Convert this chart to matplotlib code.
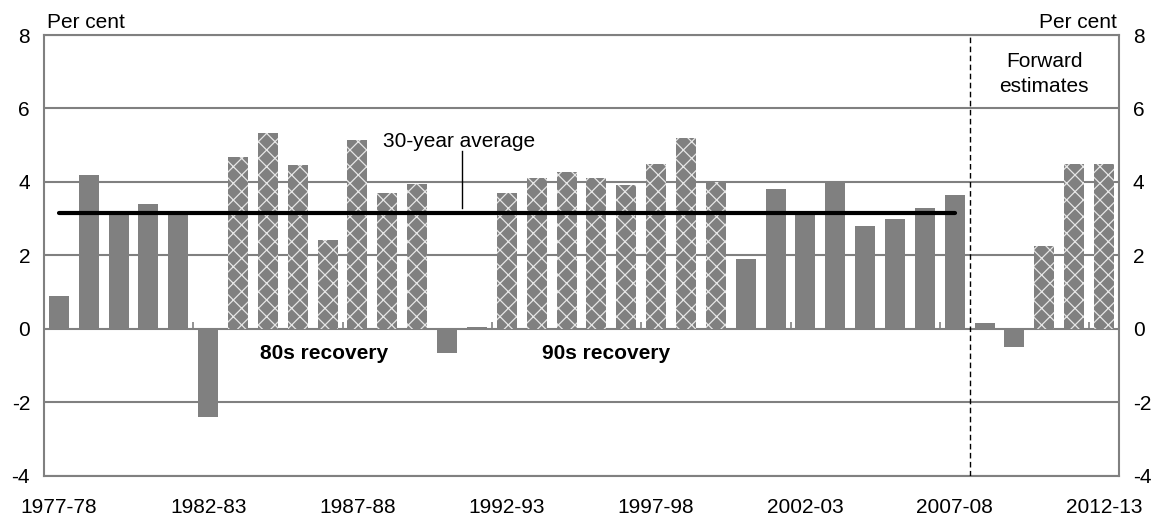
import matplotlib
matplotlib.use("Agg")
import matplotlib.pyplot as plt
import numpy as np

plt.rcParams['font.family'] = ['Liberation Sans', 'DejaVu Sans']
plt.rcParams['hatch.linewidth'] = 0.9
plt.rcParams['axes.unicode_minus'] = False

years = [f"{y}-{str(y + 1)[-2:]}" for y in range(1977, 2013)]
values = [0.9, 4.2, 3.15, 3.4, 3.2, -2.4, 4.68, 5.32, 4.45, 2.42, 5.15, 3.7,
          3.95, -0.65, 0.05, 3.7, 4.12, 4.28, 4.1, 3.92, 4.5, 5.2, 4.0, 1.9,
          3.8, 3.2, 4.02, 2.8, 3.0, 3.3, 3.65, 0.15, -0.5, 2.25, 4.5, 4.5]
recovery = set(list(range(1983, 1990)) + list(range(1992, 2000)) + [2010, 2011, 2012])
average_value = 3.15
average_span = ("1977-78", "2007-08")
forecast_start = "2008-09"
label_every = 5

grey = "#808080"
x = np.arange(len(years))
hatched = np.array([int(y[:4]) in recovery for y in years])
FS = 15

fig = plt.figure(figsize=(11.56, 5.15), dpi=100)
ax = fig.add_axes([0.038, 0.076, 0.930, 0.856])

vals = np.array(values)
ax.bar(x, vals, width=0.67, color=grey, edgecolor="none", zorder=2)
ax.bar(x[hatched], vals[hatched], width=0.67, color="none", edgecolor="#e6e6e6",
       hatch="xx", linewidth=0, zorder=3)

ax.set_xlim(-0.5, len(years) - 0.5)
ax.set_ylim(-4, 8)
ax.set_yticks(np.arange(-4, 9, 2))
ax.grid(axis='y', color=grey, linewidth=1.5, zorder=1)
ax.set_axisbelow(True)

for s in ax.spines.values():
    s.set_color(grey)
    s.set_linewidth(1.5)

# x labels at every 5th category, small ticks on the zero line at boundaries
ax.set_xticks(x[::label_every])
ax.set_xticklabels([years[i] for i in x[::label_every]], fontsize=FS)
ax.tick_params(axis='x', length=0, pad=16)
ax.vlines(x[::label_every][1:] - 0.5, 0, 0.2, color=grey, linewidth=1.2, zorder=1)

ax.tick_params(axis='y', length=0, labelsize=FS, pad=10)
ax2 = ax.twinx()
ax2.set_ylim(ax.get_ylim())
ax2.set_yticks(np.arange(-4, 9, 2))
ax2.tick_params(axis='y', length=0, labelsize=FS, pad=10)
for s in ax2.spines.values():
    s.set_visible(False)

# average line
i0, i1 = years.index(average_span[0]), years.index(average_span[1])
ax.plot([i0, i1], [average_value, average_value], color="black", linewidth=3,
        solid_capstyle="round", zorder=4)
ax.plot([13.5, 13.5], [average_value + 0.15, 4.85], color="black", linewidth=1, zorder=4)
ax.text(13.4, 5.1, "30-year average", ha="center", va="center", fontsize=FS)

# forecast divider
fx = years.index(forecast_start) - 0.5
ax.axvline(fx, color="black", linestyle=(0, (4, 2.5)), linewidth=1, zorder=4)
ax.text(33.0, 6.95, "Forward\nestimates", ha="center", va="center", fontsize=FS,
        linespacing=1.4)

ax.text(8.88, -0.68, "80s recovery", ha="center", va="center", fontsize=FS, fontweight="bold")
ax.text(18.32, -0.68, "90s recovery", ha="center", va="center", fontsize=FS, fontweight="bold")

fig.text(0.0407, 0.957, "Per cent", ha="left", va="center", fontsize=FS)
fig.text(0.966, 0.957, "Per cent", ha="right", va="center", fontsize=FS)

fig.savefig("out.png", dpi=100)
